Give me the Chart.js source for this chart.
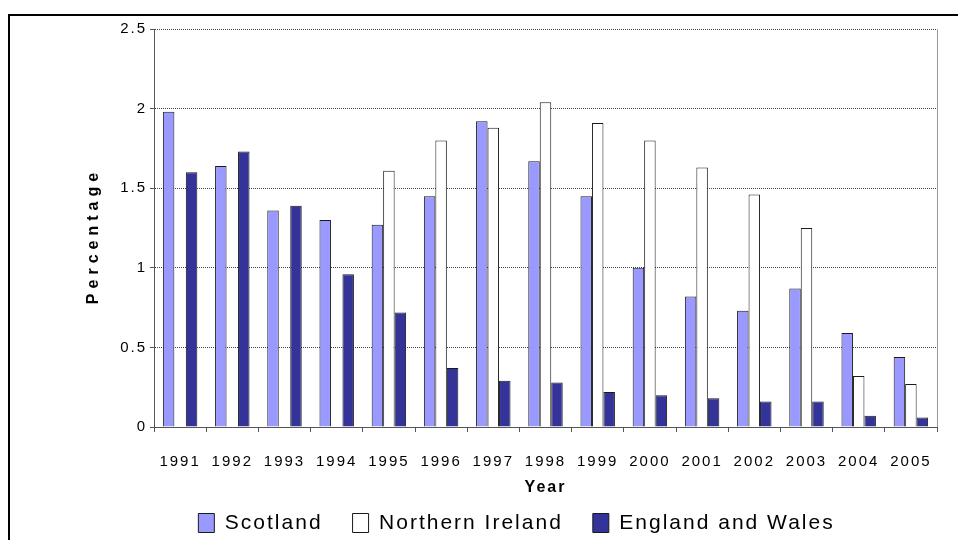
<!DOCTYPE html>
<html>
<head>
<meta charset="utf-8">
<script src="https://cdn.jsdelivr.net/npm/chart.js@4/dist/chart.umd.min.js"></script>
<style>
  html, body { margin: 0; padding: 0; background: #fff; overflow: hidden; }
  #wrap { width: 958px; height: 540px; position: relative; }
</style>
</head>
<body>
<div id="wrap"><canvas id="c" width="958" height="540"></canvas></div>
<script>
// Year categories along the x axis
const years = ['1991', '1992', '1993', '1994', '1995', '1996', '1997', '1998',
               '1999', '2000', '2001', '2002', '2003', '2004', '2005'];

// Percentage values per series (null = no figure for that year)
const scotland        = [1.98, 1.64, 1.36, 1.30, 1.27, 1.45, 1.92, 1.67, 1.45, 1.00, 0.82, 0.73, 0.87, 0.59, 0.44];
const northernIreland = [null, null, null, null, 1.61, 1.80, 1.88, 2.04, 1.91, 1.80, 1.63, 1.46, 1.25, 0.32, 0.27];
const englandWales    = [1.60, 1.73, 1.39, 0.96, 0.72, 0.37, 0.29, 0.28, 0.22, 0.20, 0.18, 0.16, 0.16, 0.07, 0.06];

// Value axis
const yMin = 0;
const yMax = 2.5;
const yStep = 0.5;

const FONT = '"Liberation Sans", Arial, Helvetica, sans-serif';
const LETTER_SPACING = '2px';
const LEGEND_TOP = 482.5;   // legend row sits closer to the axis title than the default stacking

Chart.defaults.font.family = FONT;
Chart.defaults.color = '#000';

// Wide letter spacing for all chart text, legend placement, plus the outer
// frame, the right edge of the plot and the rotated value-axis title.
const decorations = {
  id: 'decorations',
  beforeUpdate(chart) { chart.ctx.letterSpacing = LETTER_SPACING; },
  beforeLayout(chart) { chart.ctx.letterSpacing = LETTER_SPACING; },
  afterLayout(chart) {
    const lg = chart.legend;
    if (!lg) return;
    lg.top = LEGEND_TOP;
    lg.bottom = chart.height;
    lg.height = chart.height - LEGEND_TOP;
    lg.left -= 3;
    lg.right -= 3;
  },
  beforeDraw(chart) { chart.ctx.letterSpacing = LETTER_SPACING; },
  afterDraw(chart) {
    const { ctx, chartArea: a } = chart;
    ctx.save();
    // plot area right edge
    const rx = Math.round(a.right) + 0.5;
    ctx.strokeStyle = '#9a9a9a';
    ctx.lineWidth = 1;
    ctx.beginPath();
    ctx.moveTo(rx, a.top);
    ctx.lineTo(rx, a.bottom);
    ctx.stroke();
    // outer frame (top and left)
    ctx.strokeStyle = '#000';
    ctx.lineWidth = 2;
    ctx.beginPath();
    ctx.moveTo(9, 540);
    ctx.lineTo(9, 15);
    ctx.lineTo(958, 15);
    ctx.stroke();
    // value-axis title
    ctx.letterSpacing = '5px';
    ctx.font = 'bold 16px ' + FONT;
    ctx.fillStyle = '#000';
    ctx.textAlign = 'center';
    ctx.textBaseline = 'middle';
    ctx.translate(94, 236);
    ctx.rotate(-Math.PI / 2);
    ctx.fillText('Percentage', 0, 0);
    ctx.restore();
  }
};

const barStyle = { borderColor: '#1a1a1a', borderWidth: 1, categoryPercentage: 0.66, barPercentage: 1.0 };

new Chart(document.getElementById('c'), {
  type: 'bar',
  data: {
    labels: years,
    datasets: [
      Object.assign({ label: 'Scotland', data: scotland, backgroundColor: '#9999ff' }, barStyle),
      Object.assign({ label: 'Northern Ireland', data: northernIreland, backgroundColor: '#ffffff' }, barStyle),
      Object.assign({ label: 'England and Wales', data: englandWales, backgroundColor: '#333399' }, barStyle)
    ]
  },
  options: {
    responsive: false,
    animation: false,
    devicePixelRatio: 1,
    layout: { padding: { left: 102, right: 21, top: 29, bottom: 0 } },
    plugins: {
      legend: {
        position: 'bottom',
        maxHeight: 40,
        labels: { font: { size: 21 }, color: '#000', boxWidth: 16, boxHeight: 19, padding: 30 }
      },
      tooltip: { enabled: false },
      title: { display: false }
    },
    scales: {
      x: {
        afterFit(scale) { scale.height = 73; },
        grid: { display: true, drawOnChartArea: false, drawTicks: true, tickLength: 5, tickColor: '#555', offset: true },
        border: { color: '#555', width: 1 },
        ticks: { padding: 21, font: { size: 15 }, color: '#000', maxRotation: 0, autoSkip: false },
        title: { display: true, text: 'Year', font: { size: 16, weight: 'bold' }, color: '#000', padding: { top: 0, bottom: 2.9 } }
      },
      y: {
        min: yMin,
        max: yMax,
        afterFit(scale) { scale.width = 52; },
        ticks: { stepSize: yStep, padding: 3, font: { size: 15 }, color: '#000', callback: v => String(v) },
        grid: { color: '#444', lineWidth: 1, tickLength: 4, tickColor: '#555', tickBorderDash: [] },
        border: { color: '#555', width: 1, dash: [1, 1] }
      }
    }
  },
  plugins: [decorations]
});
</script>
</body>
</html>
